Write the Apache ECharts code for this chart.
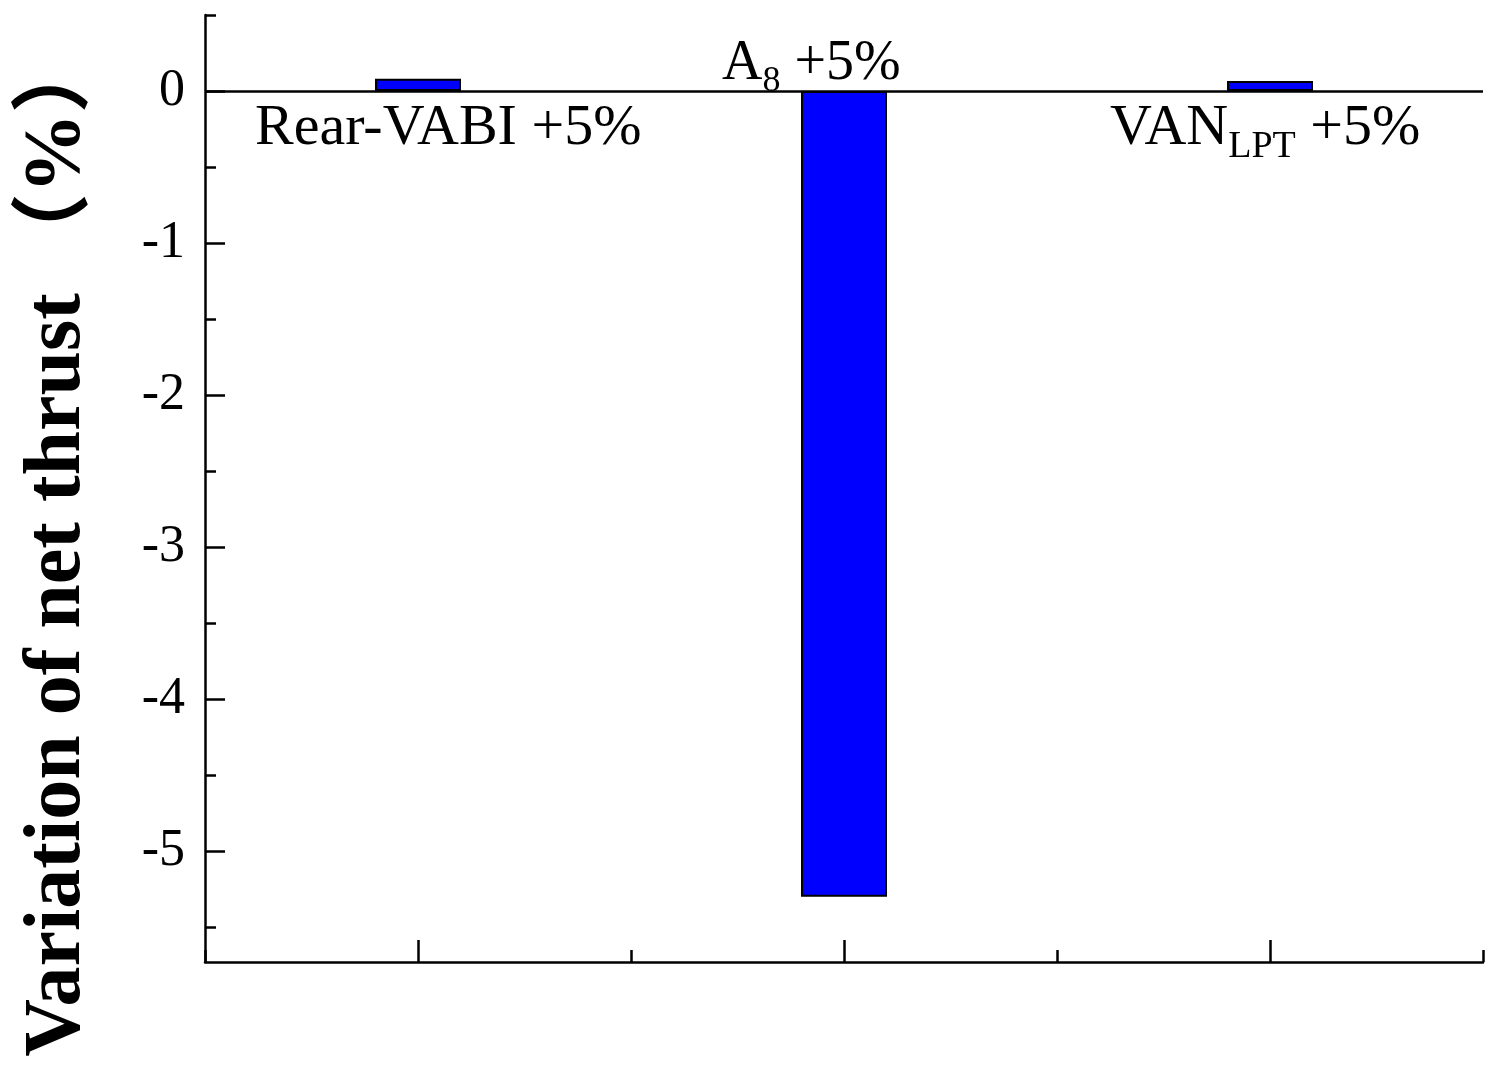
<!DOCTYPE html>
<html>
<head>
<meta charset="utf-8">
<script src="https://cdn.jsdelivr.net/npm/echarts@6/dist/echarts.min.js"></script>
<style>html,body{margin:0;padding:0;background:#fff}#chart{width:1505px;height:1090px}</style>
</head>
<body>
<div id="chart"></div>
<script>
var categories = ['Rear-VABI +5%', 'A8 +5%', 'VANLPT +5%'];
var thrustVariation = [0.08, -5.3, 0.065];
var yMajorTicks = [-5, -4, -3, -2, -1, 0];
var yMinorTicks = [-5.5, -4.5, -3.5, -2.5, -1.5, -0.5, 0.5];

var serif = '"Liberation Serif", "Times New Roman", serif';
var myChart = echarts.init(document.getElementById('chart'));

var option = {
  backgroundColor: '#fff',
  animation: false,
  grid: { left: 205, right: 22, top: 15, bottom: 128 },
  xAxis: [{
    type: 'category',
    data: categories,
    axisLine: { show: true, onZero: false, lineStyle: { color: '#000', width: 2.5 } },
    axisTick: { show: true, alignWithLabel: true, inside: true, length: 22, lineStyle: { color: '#000', width: 2.5 } },
    axisLabel: { show: false }
  }, {
    type: 'category',
    data: categories,
    position: 'bottom',
    axisLine: { show: false, onZero: false },
    axisTick: { show: true, inside: true, length: 12, lineStyle: { color: '#000', width: 2.5 } },
    axisLabel: { show: false }
  }],
  yAxis: [{
    type: 'value',
    min: -5.73,
    max: 0.5,
    splitLine: { show: false },
    axisLine: { show: true, onZero: false, lineStyle: { color: '#000', width: 2.5 } },
    axisTick: { show: true, inside: true, length: 20, customValues: yMajorTicks, lineStyle: { color: '#000', width: 2.5 } },
    axisLabel: { customValues: yMajorTicks, margin: 20, fontFamily: serif, fontSize: 52, color: '#000' }
  }, {
    type: 'value',
    min: -5.73,
    max: 0.5,
    position: 'left',
    splitLine: { show: false },
    axisLine: { show: false, onZero: false },
    axisTick: { show: true, inside: true, length: 11, customValues: yMinorTicks, lineStyle: { color: '#000', width: 2.5 } },
    axisLabel: { show: false }
  }],
  series: [{
    type: 'bar',
    data: thrustVariation,
    barWidth: 86,
    itemStyle: { color: '#0000ff', borderColor: '#000', borderWidth: 2 },
    markLine: {
      silent: true,
      symbol: 'none',
      label: { show: false },
      lineStyle: { color: '#000', width: 2.5, type: 'solid' },
      data: [{ yAxis: 0 }]
    }
  }],
  graphic: [{
    type: 'text', left: 255, top: 100,
    style: { text: 'Rear-VABI +5%', font: '58px ' + serif, fill: '#000' }
  }, {
    type: 'text', left: 722, top: 36,
    style: {
      text: '{n|A}{s|8}{n| +5%}',
      rich: {
        n: { fontFamily: serif, fontSize: 56, fill: '#000', verticalAlign: 'bottom' },
        s: { fontFamily: serif, fontSize: 36, fill: '#000', padding: [0, 0, -8, 0], verticalAlign: 'bottom' }
      }
    }
  }, {
    type: 'text', left: 1110, top: 100,
    style: {
      text: '{n|VAN}{s|LPT}{n| +5%}',
      rich: {
        n: { fontFamily: serif, fontSize: 58, fill: '#000', verticalAlign: 'bottom' },
        s: { fontFamily: serif, fontSize: 38, fill: '#000', padding: [0, 0, -8, 0], verticalAlign: 'bottom' }
      }
    }
  }, {
    type: 'text', x: 58, y: 545, rotation: Math.PI / 2,
    style: {
      text: 'Variation of net thrust （%）',
      font: 'bold 80px ' + serif + ', "Noto Sans CJK SC"',
      fill: '#000', align: 'center', verticalAlign: 'middle'
    }
  }]
};
myChart.setOption(option);
window.addEventListener('resize', function () { myChart.resize(); });
</script>
</body>
</html>
